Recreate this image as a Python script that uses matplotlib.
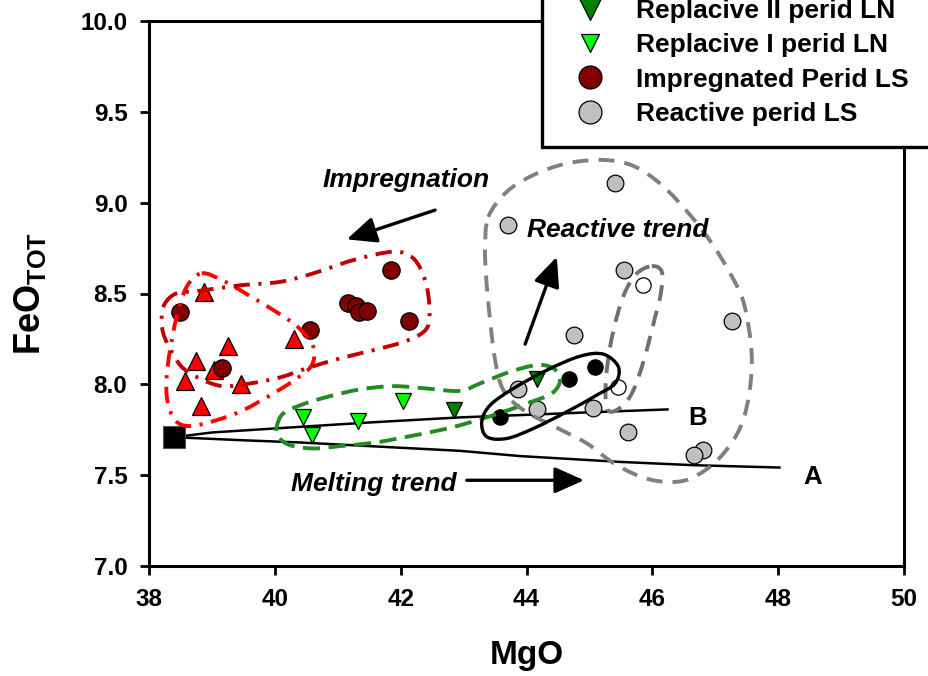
import matplotlib
matplotlib.use('Agg')
import matplotlib.pyplot as plt
from matplotlib.path import Path
from matplotlib.patches import PathPatch
from matplotlib.lines import Line2D
import numpy as np

plt.rcParams['font.family'] = ['Liberation Sans', 'DejaVu Sans']
plt.rcParams['font.weight'] = 'bold'
plt.rcParams['mathtext.fontset'] = 'custom'
plt.rcParams['mathtext.rm'] = 'Liberation Sans:bold'
plt.rcParams['mathtext.bf'] = 'Liberation Sans:bold'
plt.rcParams['mathtext.it'] = 'Liberation Sans:bold:italic'

# ---------------- data ----------------
red_tri_x = [38.87, 39.26, 38.75, 38.57, 39.03, 39.47, 38.83, 40.31]
red_tri_y = [8.51, 8.21, 8.13, 8.02, 8.08, 8.00, 7.88, 8.25]

impreg_x = [38.49, 39.16, 40.56, 41.84, 41.17, 41.29, 41.33, 41.46, 42.13]
impreg_y = [8.40, 8.09, 8.30, 8.63, 8.45, 8.43, 8.40, 8.405, 8.35]

repl1_x = [40.44, 40.59, 41.32, 42.04]
repl1_y = [7.82, 7.72, 7.80, 7.91]

repl2_x = [42.84, 44.16]
repl2_y = [7.86, 8.03]

react_x = [45.41, 43.70, 45.55, 47.26, 44.76, 43.87, 44.16, 45.06, 45.62, 46.81, 46.67]
react_y = [9.11, 8.877, 8.629, 8.348, 8.271, 7.972, 7.862, 7.867, 7.739, 7.641, 7.610]

white_x = [45.85, 45.46]
white_y = [8.546, 7.986]

black_x = [43.58, 44.68, 45.09]
black_y = [7.818, 8.032, 8.093]

source_x = [38.40]
source_y = [7.709]

lineA_x = [38.40, 39.5, 40.4, 41.5, 42.94, 43.9, 45.49, 46.65, 48.02]
lineA_y = [7.709, 7.692, 7.680, 7.660, 7.634, 7.605, 7.573, 7.555, 7.542]

lineB_x = [38.40, 39.0, 40.4, 41.5, 42.94, 44.0, 45.0, 46.24]
lineB_y = [7.709, 7.735, 7.766, 7.790, 7.818, 7.832, 7.846, 7.862]

env_red = [(38.838, 8.611), (39.181, 8.570), (39.606, 8.486), (40.003, 8.403),
           (40.374, 8.313), (40.612, 8.207), (40.587, 8.106), (40.348, 8.032),
           (39.976, 7.950), (39.499, 7.858), (39.076, 7.803), (38.652, 7.770),
           (38.413, 7.803), (38.291, 7.913), (38.281, 8.041), (38.334, 8.188),
           (38.440, 8.372), (38.599, 8.537)]

env_darkred = [(38.254, 8.446), (38.440, 8.501), (38.811, 8.515), (39.447, 8.545),
               (40.083, 8.564), (40.612, 8.611), (41.248, 8.684), (41.884, 8.730),
               (42.202, 8.693), (42.388, 8.574), (42.456, 8.427), (42.415, 8.308),
               (42.097, 8.240), (41.566, 8.188), (41.037, 8.143), (40.507, 8.088),
               (40.083, 8.038), (39.606, 8.005), (39.181, 7.990), (38.863, 8.023),
               (38.545, 8.088), (38.361, 8.179), (38.227, 8.280), (38.202, 8.372)]

env_green = [(40.030, 7.766), (40.135, 7.840), (40.453, 7.891), (40.878, 7.935),
             (41.355, 7.972), (41.884, 7.990), (42.415, 7.977), (42.944, 7.964),
             (43.262, 8.005), (43.739, 8.069), (44.164, 8.106), (44.428, 8.088),
             (44.534, 8.023), (44.402, 7.950), (44.005, 7.895), (43.474, 7.830),
             (42.944, 7.775), (42.626, 7.748), (42.097, 7.711), (41.566, 7.678),
             (41.037, 7.660), (40.612, 7.647), (40.242, 7.665), (40.056, 7.711)]

env_gray_big = [(43.394, 8.922), (43.687, 9.060), (44.110, 9.152), (44.641, 9.216),
                (45.223, 9.235), (45.700, 9.202), (46.151, 9.097), (46.601, 8.932),
                (46.946, 8.776), (47.237, 8.611), (47.448, 8.454), (47.566, 8.225),
                (47.571, 8.041), (47.475, 7.840), (47.289, 7.693), (46.946, 7.555),
                (46.494, 7.469), (45.965, 7.476), (45.436, 7.555), (44.959, 7.675),
                (44.534, 7.752), (43.951, 7.858), (43.633, 7.968), (43.501, 8.133),
                (43.421, 8.354), (43.358, 8.592), (43.342, 8.757)]

env_gray_small = [(45.992, 8.651), (46.151, 8.620), (46.135, 8.501), (46.045, 8.372),
                  (45.938, 8.225), (45.833, 8.096), (45.700, 7.968), (45.541, 7.885),
                  (45.329, 7.849), (45.261, 7.913), (45.266, 8.041), (45.329, 8.207),
                  (45.436, 8.372), (45.568, 8.509), (45.754, 8.611)]

env_black = [(43.289, 7.794), (43.421, 7.885), (43.792, 7.977), (44.323, 8.078),
             (44.852, 8.155), (45.223, 8.166), (45.461, 8.096), (45.409, 8.005),
             (45.118, 7.941), (44.641, 7.849), (44.110, 7.757), (43.687, 7.702),
             (43.369, 7.711)]

legend_labels = ['Replacive II perid LN', 'Replacive I perid LN',
                 'Impregnated Perid LS', 'Reactive perid LS']

# ---------------- figure ----------------
W, H = 929, 676
fig = plt.figure(figsize=(W / 100, H / 100), dpi=100)
ax = fig.add_axes([149 / W, 1 - 566 / H, 755 / W, 545 / H])


def closed_curve(pts):
    P = np.array(pts, dtype=float)
    n = len(P)
    verts = [P[0]]
    codes = [Path.MOVETO]
    for i in range(n):
        p0 = P[(i - 1) % n]
        p1 = P[i]
        p2 = P[(i + 1) % n]
        p3 = P[(i + 2) % n]
        c1 = p1 + (p2 - p0) / 6.0
        c2 = p2 - (p3 - p1) / 6.0
        verts += [c1, c2, p2]
        codes += [Path.CURVE4] * 3
    return Path(verts, codes)


def envelope(pts, color, ls, lw=2.8):
    patch = PathPatch(closed_curve(pts), fill=False, edgecolor=color,
                      lw=lw, linestyle=ls, zorder=4, capstyle='butt')
    ax.add_patch(patch)


dashdot = (0, (4.2, 2.2, 0.8, 2.2))
dashed_g = (0, (4.4, 2.2))
dashed_k = (0, (4.1, 2.6))
envelope(env_red, '#FF0000', dashdot)
envelope(env_darkred, '#C00000', dashdot)
envelope(env_green, '#228B22', dashed_g)
envelope(env_gray_big, '#808080', dashed_k)
envelope(env_gray_small, '#707070', dashed_k)
envelope(env_black, 'black', '-', lw=2.4)

# melting lines
ax.plot(lineA_x, lineA_y, color='black', lw=1.8, zorder=2)
ax.plot(lineB_x, lineB_y, color='black', lw=1.8, zorder=2)

mk = dict(linestyle='none', markeredgecolor='black', markeredgewidth=0.9, zorder=3)
ax.plot(red_tri_x, red_tri_y, marker='^', ms=13, markerfacecolor='#FF0000', **mk)
ax.plot(impreg_x, impreg_y, marker='o', ms=12.5, markerfacecolor='#800000', **mk)
ax.plot(repl1_x, repl1_y, marker='v', ms=11, markerfacecolor='#00FF00', **mk)
ax.plot(repl2_x, repl2_y, marker='v', ms=11, markerfacecolor='#008000', **mk)
ax.plot(react_x, react_y, marker='o', ms=12, markerfacecolor='#C0C0C0', **mk)
ax.plot(white_x, white_y, marker='o', ms=11, markerfacecolor='white', **mk)
ax.plot(black_x, black_y, marker='o', ms=11, markerfacecolor='black', **mk)
ax.plot(source_x, source_y, marker='s', ms=16, markerfacecolor='black',
        markeredgecolor='#555555', markeredgewidth=0.8, linestyle='none', zorder=3)

# arrows
aprops = dict(arrowstyle='-|>,head_length=0.9,head_width=0.4', lw=2.4,
              color='black', mutation_scale=20, shrinkA=0, shrinkB=0)
ax.annotate('', xy=(41.143, 8.798), xytext=(42.547, 8.959), arrowprops=aprops, zorder=5)
ax.annotate('', xy=(44.482, 8.702), xytext=(43.978, 8.221), arrowprops=aprops, zorder=5)
ax.annotate('', xy=(44.916, 7.472), xytext=(43.051, 7.472), arrowprops=aprops, zorder=5)

# annotations
tkw = dict(fontsize=19, fontweight='bold', style='italic', ha='center', va='baseline', zorder=6)
ax.text(42.083, 9.088, 'Impregnation', **tkw)
ax.text(45.448, 8.809, 'Reactive trend', **tkw)
ax.text(41.572, 7.414, 'Melting trend', **tkw)
ax.text(48.549, 7.454, 'A', fontsize=18.5, fontweight='bold', ha='center', va='baseline')
ax.text(46.720, 7.775, 'B', fontsize=18.5, fontweight='bold', ha='center', va='baseline')

# axes
ax.set_xlim(38, 50)
ax.set_ylim(7.0, 10.0)
ax.set_xticks(np.arange(38, 51, 2))
ax.set_yticks(np.arange(7.0, 10.01, 0.5))
ax.set_yticklabels([f'{v:.1f}' for v in np.arange(7.0, 10.01, 0.5)])
ax.tick_params(direction='out', length=6.5, width=2.0, pad=9, labelsize=17.5)
ax.tick_params(top=False, right=False)
for s in ax.spines.values():
    s.set_linewidth(2.2)
for lab in ax.get_xticklabels() + ax.get_yticklabels():
    lab.set_fontweight('bold')

ax.set_xlabel('MgO', fontsize=24, fontweight='bold', labelpad=21)
ax.set_ylabel(r'FeO$_{\mathrm{TOT}}$', fontsize=26, fontweight='bold', labelpad=23)

# legend
handles = [
    Line2D([], [], marker='v', ms=16.5, linestyle='none', markerfacecolor='#008000',
           markeredgecolor='black', markeredgewidth=0.9),
    Line2D([], [], marker='v', ms=13, linestyle='none', markerfacecolor='#00FF00',
           markeredgecolor='black', markeredgewidth=0.9),
    Line2D([], [], marker='o', ms=16.5, linestyle='none', markerfacecolor='#800000',
           markeredgecolor='black', markeredgewidth=0.9),
    Line2D([], [], marker='o', ms=16.5, linestyle='none', markerfacecolor='#C0C0C0',
           markeredgecolor='black', markeredgewidth=0.9),
]
leg = fig.legend(handles, legend_labels, loc='lower left',
                 bbox_to_anchor=(542 / W, 1 - 147 / H), borderaxespad=0,
                 frameon=True, fancybox=False, framealpha=1, edgecolor='black',
                 borderpad=0.8, handlelength=2.0, handletextpad=0.76,
                 labelspacing=0.39, prop={'size': 19, 'weight': 'bold'})
leg.get_frame().set_linewidth(2.4)

fig.savefig('out.png', dpi=100)
